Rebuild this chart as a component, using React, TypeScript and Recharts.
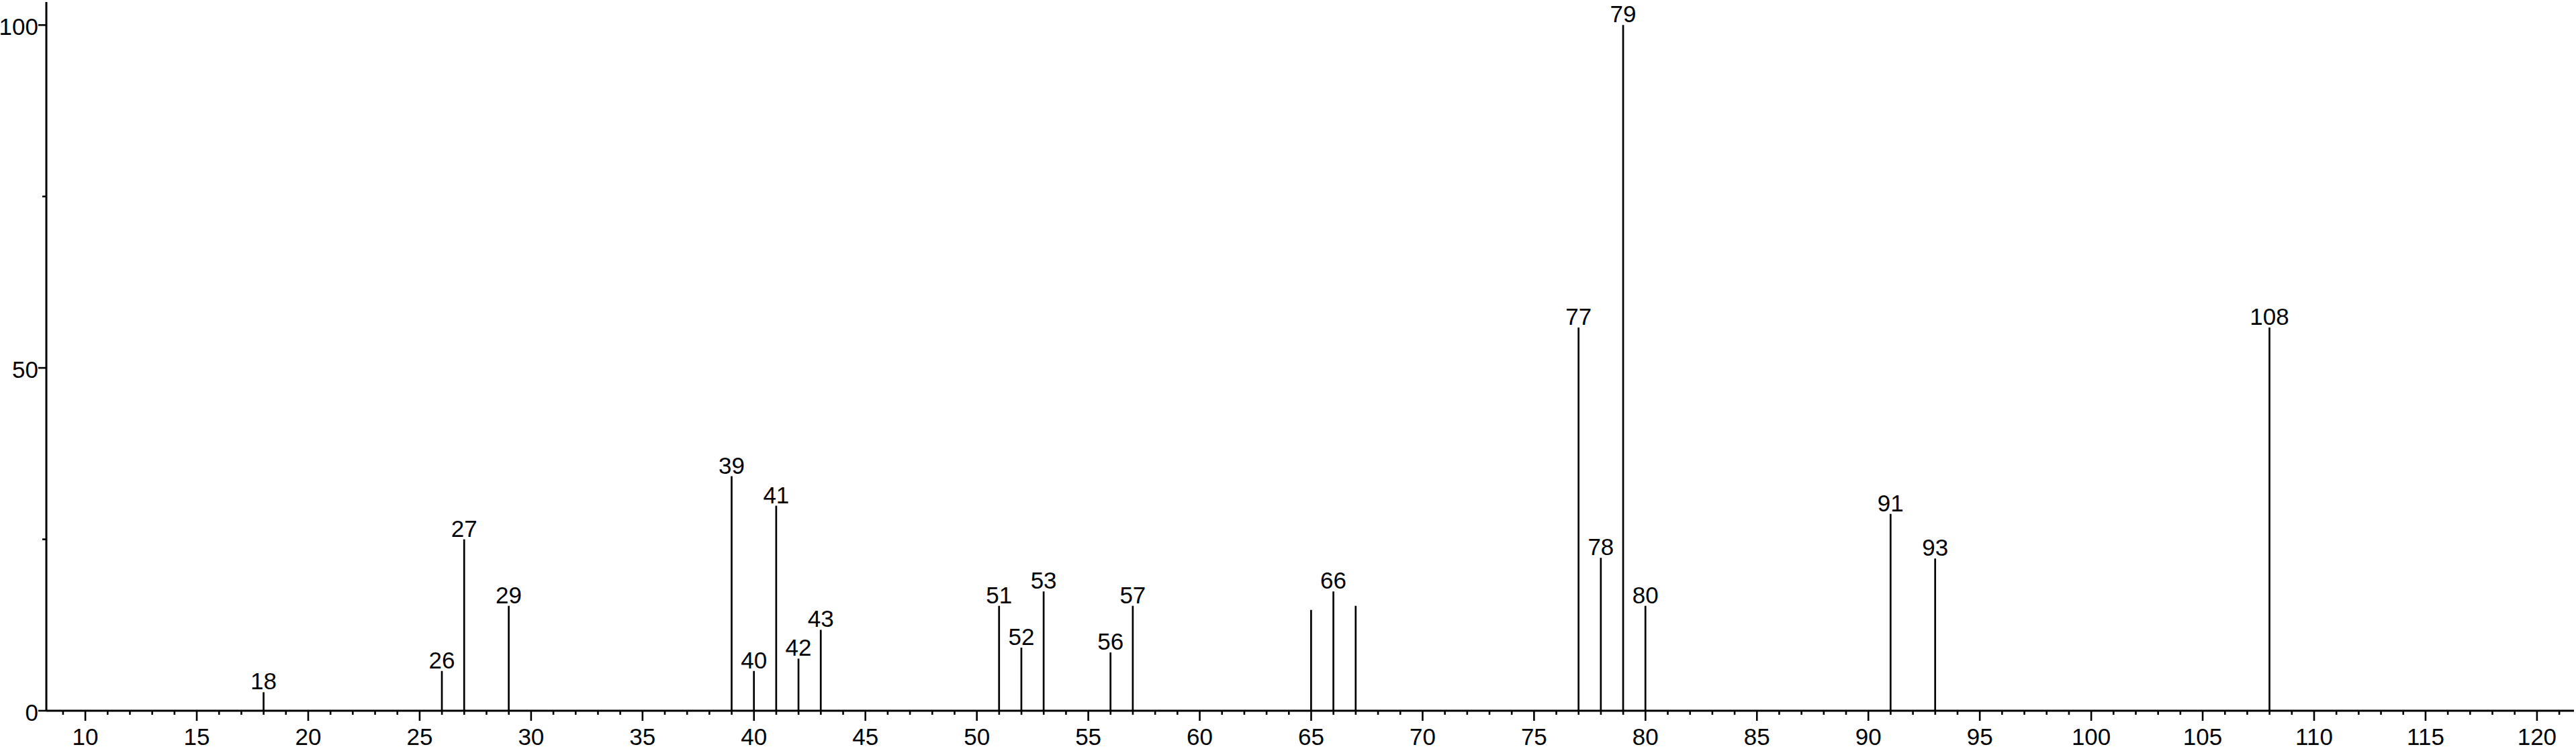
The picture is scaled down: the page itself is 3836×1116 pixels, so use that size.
import React from 'react';
import { ComposedChart, Bar, XAxis, YAxis, LabelList } from 'recharts';

// m/z positions of the peaks
const mzValues = [18, 26, 27, 29, 39, 40, 41, 42, 43, 51, 52, 53, 56, 57, 65, 66, 67, 77, 78, 79, 80, 91, 93, 108];
// relative intensities (%)
const intensities = [2.7, 5.8, 25.0, 15.3, 34.2, 5.8, 29.9, 7.6, 11.8, 15.3, 9.2, 17.4, 8.5, 15.3, 14.7, 17.4, 15.3, 55.9, 22.3, 100, 15.3, 28.7, 22.2, 55.9];
// peaks drawn without a label
const unlabeledMz = [65, 67];

// axis ticks
const xMajorTicks = [10, 15, 20, 25, 30, 35, 40, 45, 50, 55, 60, 65, 70, 75, 80, 85, 90, 95, 100, 105, 110, 115, 120];
const xFirstTick = 9;
const xLastTick = 121;
const yTicks = [0, 25, 50, 75, 100];
const yLabeledTicks = [0, 50, 100];

const X_DOMAIN: [number, number] = [8.25, 121.66];
const Y_DOMAIN: [number, number] = [0, 103.36];

const FONT = '"Liberation Sans", Arial, Helvetica, sans-serif';

const data = mzValues.map((mz, i) => ({
  mz,
  intensity: intensities[i],
  label: unlabeledMz.includes(mz) ? '' : String(mz),
}));

const xTicks: number[] = [];
for (let v = xFirstTick; v <= xLastTick; v++) xTicks.push(v);

const XTick = (props: any) => {
  const { x, y, payload } = props;
  const v = payload.value;
  const major = xMajorTicks.includes(v);
  return (
    <g>
      <line x1={x} x2={x} y1={y} y2={y + (major ? 15 : 6)} stroke="#000" strokeWidth={2.6} />
      {major && (
        <text x={x} y={y + 51} textAnchor="middle" fontSize={35} fontFamily={FONT} fill="#000">
          {v}
        </text>
      )}
    </g>
  );
};

const YTick = (props: any) => {
  const { x, y, payload } = props;
  const v = payload.value;
  const major = yLabeledTicks.includes(v);
  return (
    <g>
      <line x1={x} x2={x - (major ? 12 : 6)} y1={y} y2={y} stroke="#000" strokeWidth={2.6} />
      {major && (
        <text x={x - 12} y={y + 15} textAnchor="end" fontSize={35} fontFamily={FONT} fill="#000">
          {v}
        </text>
      )}
    </g>
  );
};

const Stick = (props: any) => {
  const { x, y, width, height } = props;
  if (x == null || y == null) return null;
  const cx = x + width / 2;
  return <line x1={cx} x2={cx} y1={y} y2={y + height} stroke="#000" strokeWidth={2.7} />;
};

const PeakLabel = (props: any) => {
  const vb = props.viewBox || {};
  const x = props.x ?? vb.x;
  const y = props.y ?? vb.y;
  const width = props.width ?? vb.width ?? 0;
  const value = props.value;
  if (!value) return null;
  return (
    <text x={x + width / 2} y={y - 4} textAnchor="middle" fontSize={35} fontFamily={FONT} fill="#000">
      {value}
    </text>
  );
};

export default function App() {
  return (
    <div style={{ position: 'absolute', left: 0, top: 0, background: '#fff' }}>
      <ComposedChart
        width={3836}
        height={1116}
        data={data}
        margin={{ top: 3, right: 3, bottom: 0, left: 0 }}
      >
        <XAxis
          dataKey="mz"
          type="number"
          domain={X_DOMAIN}
          allowDataOverflow
          ticks={xTicks}
          interval={0}
          height={57}
          tickSize={0}
          tickMargin={0}
          tickLine={false}
          axisLine={{ stroke: '#000', strokeWidth: 3 }}
          tick={<XTick />}
        />
        <YAxis
          type="number"
          domain={Y_DOMAIN}
          allowDataOverflow
          ticks={yTicks}
          interval={0}
          width={69}
          tickSize={0}
          tickMargin={0}
          tickLine={false}
          axisLine={{ stroke: '#000', strokeWidth: 3 }}
          tick={<YTick />}
        />
        <Bar dataKey="intensity" barSize={3} shape={<Stick />} isAnimationActive={false}>
          <LabelList dataKey="label" content={<PeakLabel />} />
        </Bar>
      </ComposedChart>
    </div>
  );
}
